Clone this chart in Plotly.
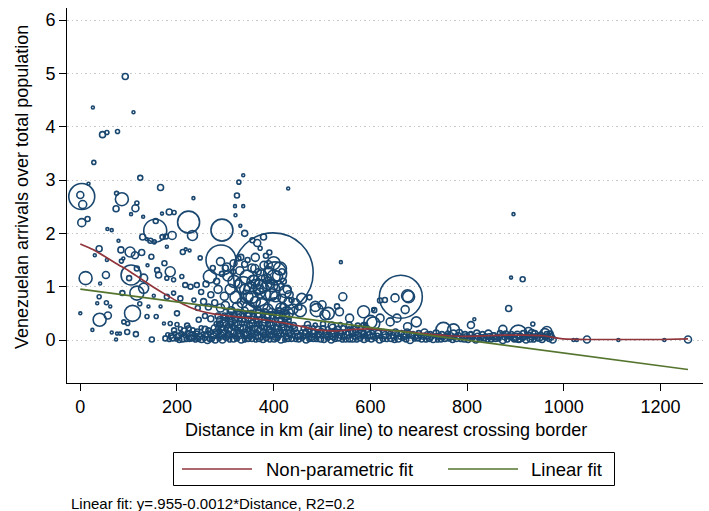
import numpy as np
import plotly.graph_objects as go

NAVY = "#1a476f"
MAROON = "#90353b"
OLIVE = "#55752f"
FONT = "Liberation Sans, Arial, Helvetica, sans-serif"

# Municipalities: distance to nearest border crossing (km), Venezuelan arrivals
# over total population, and population (thousands) used for bubble area.
far_km = [93, 26, 110, 46, 55, 77, 28, 124, 17, 3,
          0, 5, 15, 3, 75, 86, 74, 117, 114, 105,
          130, 56, 65, 166, 234, 155, 156, 169, 184, 194,
          224, 232, 129, 170, 190, 79, 179, 293, 321, 324,
          328, 337, 320, 337, 331, 340, 430, 379, 366, 356]
far_ratio = [4.94, 4.36, 4.27, 3.85, 3.89, 3.91, 3.33, 3.04, 2.93, 2.69,
             2.72, 2.54, 2.27, 2.20, 2.75, 2.64, 2.46, 2.57, 2.47, 2.36,
             2.31, 2.08, 2.06, 2.86, 2.66, 2.05, 2.23, 2.37, 2.40, 2.39,
             2.21, 1.96, 1.93, 1.93, 1.96, 1.86, 1.75, 2.06, 2.34, 2.71,
             2.96, 3.09, 2.51, 2.51, 2.14, 2.00, 2.84, 1.93, 1.82, 1.87]
far_pop = [45, 11, 11, 45, 20, 20, 20, 31, 11, 845,
           61, 80, 31, 80, 20, 211, 45, 20, 61, 11,
           11, 11, 11, 45, 11, 661, 31, 11, 45, 20,
           605, 125, 45, 31, 80, 11, 11, 605, 11, 31,
           20, 11, 11, 11, 11, 45, 11, 45, 61, 31]

mid_km = [372, 391, 384, 399, 39, 30, 147, 248, 212, 218,
          226, 84, 103, 113, 127, 89, 145, 153, 138, 55,
          85, 174, 159, 139, 105, 117, 101, 131, 186, 179,
          162, 193, 210, 11, 53, 41, 39, 87, 117, 131,
          152, 179, 54, 62, 35, 0, 40, 57, 108, 177]
mid_ratio = [1.72, 1.64, 1.58, 1.26, 1.71, 1.59, 1.56, 1.54, 1.65, 1.70,
             1.68, 1.69, 1.65, 1.59, 1.64, 1.53, 1.86, 1.84, 1.89, 1.50,
             1.48, 1.44, 1.31, 1.40, 1.22, 1.34, 1.16, 1.16, 1.28, 1.16,
             1.22, 1.13, 1.19, 1.16, 1.22, 1.06, 0.81, 0.88, 0.88, 0.97,
             0.83, 0.81, 0.70, 0.63, 0.69, 0.50, 0.38, 0.46, 0.50, 1.94]
mid_pop = [20, 31, 31, 8000, 45, 11, 31, 20, 31, 11,
           11, 45, 125, 61, 45, 11, 31, 20, 11, 11,
           20, 31, 31, 11, 500, 31, 31, 80, 125, 20,
           45, 20, 20, 211, 61, 11, 20, 31, 245, 125,
           11, 31, 20, 11, 11, 11, 211, 61, 320, 31]

low_km = [25, 65, 76, 82, 97, 115, 74, 148, 123, 141,
          138, 157, 166, 193, 207, 217, 228, 241, 200, 173,
          186, 90, 98, 291, 268, 290, 293, 400, 417, 317,
          303, 337, 358, 379, 392, 365, 344, 400, 458, 474,
          489, 513, 543, 539, 531, 536, 557, 586, 606, 608]
low_ratio = [0.19, 0.14, 0.12, 0.12, 0.15, 0.11, 0.01, 0.01, 0.68, 0.63,
             0.44, 0.44, 0.63, 0.88, 0.78, 1.03, 1.00, 1.03, 0.50, 0.31,
             0.31, 0.34, 0.31, 1.50, 1.19, 1.47, 1.24, 1.44, 1.28, 1.44,
             1.37, 1.03, 1.09, 1.06, 0.94, 0.88, 0.81, 1.19, 0.78, 0.80,
             0.56, 0.50, 0.81, 1.46, 0.63, 0.53, 0.41, 0.53, 0.31, 0.56]
low_pop = [11, 11, 11, 11, 31, 31, 11, 31, 20, 11,
           20, 20, 11, 20, 31, 31, 31, 31, 31, 11,
           20, 20, 20, 1125, 211, 80, 31, 211, 45, 61,
           80, 361, 211, 361, 500, 911, 211, 211, 125, 31,
           211, 180, 80, 11, 31, 80, 80, 180, 211, 31]

south_km = [586, 420, 427, 455, 891, 915, 663, 677, 651, 672,
            620, 630, 606, 886, 936, 815, 808, 906, 874, 751,
            772, 695, 677, 655, 641, 620, 600, 927, 934, 896,
            965, 961, 1020, 1027, 1048, 1113, 1208, 1257, 679, 403,
            413, 389, 375, 361, 389, 368, 424, 404, 327, 486,
            500, 506, 437]
south_ratio = [0.28, 0.63, 0.50, 0.55, 1.17, 1.14, 0.81, 0.83, 0.79, 0.57,
               0.74, 0.75, 0.57, 0.59, 0.30, 0.39, 0.28, 0.12, 0.20, 0.19,
               0.19, 0.34, 0.25, 0.41, 0.34, 0.41, 0.34, 0.16, 0.12, 2.36,
               0.16, 0.12, 0.00, 0.00, 0.01, 0.00, 0.00, 0.01, 0.81, 1.25,
               1.34, 1.41, 1.22, 1.34, 1.06, 0.94, 0.91, 0.81, 1.53, 0.63,
               0.66, 0.47, 0.75]
south_pop = [31, 45, 211, 180, 11, 31, 2311, 180, 80, 80,
             31, 31, 11, 45, 20, 11, 61, 361, 80, 281,
             180, 125, 80, 80, 80, 80, 211, 80, 80, 11,
             125, 125, 11, 11, 61, 11, 11, 61, 180, 661,
             211, 80, 125, 80, 180, 125, 180, 125, 31, 125,
             80, 125, 31]

core_km = [305, 318, 330, 345, 352, 360, 372, 385, 395, 410,
           418, 428, 310, 322, 335, 348, 362, 376, 388, 402,
           415, 430, 440, 300, 312, 326, 340, 355, 368, 380,
           298, 285, 278, 290, 270, 265, 255, 260, 250, 243,
           235, 282, 274, 300, 316, 332, 346, 362, 390, 408,
           420, 432, 445, 452, 396, 372, 355, 340, 325, 310,
           330, 350, 370, 390, 410, 425, 300, 285, 270, 258,
           245, 288]
core_ratio = [1.20, 1.10, 1.30, 1.18, 0.98, 1.12, 1.00, 1.15, 0.85, 1.02,
              0.78, 0.95, 0.95, 0.80, 0.70, 0.62, 0.72, 0.66, 0.58, 0.68,
              0.60, 0.72, 0.58, 0.65, 0.55, 1.05, 1.42, 1.35, 1.28, 1.40,
              0.82, 0.95, 0.70, 0.60, 0.85, 0.62, 0.72, 1.05, 0.90, 0.60,
              0.75, 1.10, 1.35, 1.35, 1.28, 1.55, 1.50, 1.55, 1.30, 1.20,
              1.10, 0.85, 0.70, 0.62, 1.02, 0.88, 0.80, 0.95, 0.62, 0.45,
              0.48, 0.45, 0.50, 0.44, 0.48, 0.45, 0.42, 0.45, 0.40, 0.45,
              0.38, 0.30]
core_pop = [125, 180, 80, 245, 180, 125, 245, 125, 180, 125,
            80, 80, 125, 180, 125, 180, 125, 180, 125, 180,
            125, 80, 125, 80, 80, 80, 45, 80, 45, 80,
            80, 80, 45, 80, 45, 45, 45, 45, 31, 31,
            20, 45, 31, 45, 31, 45, 31, 80, 80, 125,
            45, 80, 80, 45, 180, 125, 180, 125, 125, 80,
            80, 125, 80, 125, 80, 80, 45, 45, 45, 31,
            31, 45]

# Small municipalities with low ratios, 175-270 km
band_a_km = [176, 184, 191, 199, 205, 212, 219, 226, 231, 238,
             244, 251, 257, 263, 268, 181, 188, 196, 203, 209,
             216, 222, 229, 235, 241, 247, 254, 260, 266, 194,
             207, 215, 224, 233, 242, 250, 258, 265, 200, 221]
band_a_ratio = [0.03, 0.01, 0.04, 0.02, 0.00, 0.03, 0.01, 0.02, 0.04, 0.00,
                0.02, 0.01, 0.03, 0.00, 0.02, 0.10, 0.08, 0.12, 0.07, 0.11,
                0.09, 0.13, 0.08, 0.10, 0.12, 0.07, 0.11, 0.09, 0.13, 0.18,
                0.21, 0.17, 0.22, 0.19, 0.16, 0.23, 0.20, 0.18, 0.29, 0.27]
band_a_pop = [31, 20, 45, 20, 31, 61, 20, 31, 45, 20,
              31, 45, 20, 61, 31, 20, 31, 20, 45, 31,
              20, 31, 61, 20, 31, 45, 20, 31, 20, 31,
              20, 45, 31, 20, 31, 20, 45, 31, 20, 31]

# 270-450 km
band_b_km = [272, 279, 287, 294, 302, 309, 317, 324, 333, 340,
             347, 355, 363, 370, 378, 385, 392, 401, 408, 415,
             423, 430, 437, 446,
             276, 284, 291, 298, 306, 313, 321, 329, 336, 344,
             351, 358, 366, 374, 381, 389, 396, 404, 411, 419,
             426, 434, 441, 449,
             273, 281, 288, 296, 304, 311, 318, 326, 333, 341,
             349, 356, 364, 371, 379, 386, 394, 401, 409, 416,
             424, 431, 439, 447,
             278, 285, 293, 301, 308, 316, 323, 331, 338, 346,
             353, 361, 368, 376, 383, 391, 398, 406, 413, 421,
             428, 436, 443,
             282, 290, 297, 305, 312, 320, 327, 335, 343, 350,
             357, 365, 372, 380, 388, 395, 402, 410, 418, 425,
             433, 441,
             288, 296, 304, 313, 321, 330, 338, 347, 355, 364,
             372, 381, 389, 398, 406, 415, 423, 432,
             298, 308, 318, 328, 338, 348, 358, 368, 378, 388,
             398, 408, 418, 428,
             312, 326, 340, 354, 368, 382, 396, 410, 424]
band_b_ratio = [0.02, 0.00, 0.03, 0.01, 0.04, 0.00, 0.02, 0.03, 0.01, 0.00,
                0.03, 0.02, 0.00, 0.04, 0.01, 0.03, 0.00, 0.02, 0.04, 0.01,
                0.00, 0.03, 0.02, 0.01,
                0.08, 0.07, 0.09, 0.06, 0.10, 0.08, 0.07, 0.09, 0.08, 0.10,
                0.06, 0.09, 0.08, 0.07, 0.10, 0.08, 0.09, 0.06, 0.08, 0.10,
                0.07, 0.09, 0.08, 0.07,
                0.15, 0.14, 0.16, 0.13, 0.15, 0.17, 0.14, 0.16, 0.15, 0.13,
                0.16, 0.15, 0.14, 0.17, 0.15, 0.13, 0.16, 0.15, 0.14, 0.16,
                0.15, 0.13, 0.16, 0.14,
                0.22, 0.21, 0.23, 0.20, 0.22, 0.24, 0.21, 0.23, 0.22, 0.20,
                0.23, 0.22, 0.21, 0.24, 0.22, 0.20, 0.23, 0.22, 0.21, 0.23,
                0.22, 0.20, 0.21,
                0.30, 0.29, 0.31, 0.28, 0.30, 0.32, 0.29, 0.31, 0.30, 0.28,
                0.31, 0.30, 0.29, 0.32, 0.30, 0.28, 0.31, 0.30, 0.29, 0.31,
                0.28, 0.27,
                0.38, 0.37, 0.39, 0.36, 0.38, 0.40, 0.37, 0.39, 0.38, 0.36,
                0.39, 0.38, 0.37, 0.40, 0.38, 0.36, 0.39, 0.37,
                0.46, 0.45, 0.47, 0.44, 0.46, 0.48, 0.45, 0.47, 0.46, 0.44,
                0.47, 0.46, 0.45, 0.47,
                0.54, 0.53, 0.55, 0.52, 0.56, 0.54, 0.53, 0.55, 0.52]
band_b_pop = [31, 45, 20, 61, 31, 20, 45, 31, 61, 20,
              45, 31, 20, 61, 45, 31, 20, 45, 31, 61,
              20, 45, 31, 20,
              45, 20, 61, 31, 45, 20, 31, 61, 20, 45,
              31, 20, 61, 45, 31, 20, 45, 61, 31, 20,
              45, 31, 20, 45,
              20, 61, 31, 45, 20, 61, 45, 31, 20, 61,
              45, 20, 31, 61, 45, 20, 31, 45, 61, 20,
              31, 45, 20, 31,
              61, 31, 45, 20, 61, 31, 20, 45, 61, 31,
              20, 45, 61, 31, 20, 45, 31, 61, 20, 45,
              31, 20, 45,
              31, 45, 61, 20, 31, 45, 61, 31, 20, 45,
              61, 31, 20, 45, 31, 61, 20, 31, 45, 20,
              31, 45,
              45, 31, 20, 61, 45, 31, 20, 45, 61, 31,
              20, 45, 31, 61, 20, 45, 31, 20,
              31, 61, 45, 20, 31, 61, 45, 31, 20, 45,
              61, 31, 45, 20,
              45, 31, 61, 20, 45, 31, 61, 45, 31]

# 450-600 km
band_c_km = [452, 459, 467, 474, 482, 489, 497, 504, 512, 519,
             527, 534, 542, 549, 557, 564, 572, 579, 587, 594,
             455, 463, 470, 478, 485, 493, 500, 508, 515, 523,
             530, 538, 545, 553, 560, 568, 575, 583, 590, 598,
             458, 466, 474, 482, 490, 498, 506, 514, 522, 530,
             538, 546, 554, 562, 570, 578, 586, 594,
             462, 472, 482, 492, 502, 512, 522, 532, 544, 556,
             568, 580, 592,
             470, 486, 502, 520, 538, 556, 574, 590]
band_c_ratio = [0.01, 0.03, 0.00, 0.02, 0.04, 0.01, 0.02, 0.00, 0.03, 0.01,
                0.02, 0.04, 0.00, 0.01, 0.03, 0.02, 0.00, 0.03, 0.01, 0.02,
                0.08, 0.07, 0.09, 0.06, 0.08, 0.10, 0.07, 0.09, 0.08, 0.06,
                0.09, 0.08, 0.07, 0.10, 0.08, 0.06, 0.09, 0.07, 0.08, 0.09,
                0.15, 0.14, 0.16, 0.13, 0.15, 0.16, 0.14, 0.15, 0.13, 0.16,
                0.14, 0.15, 0.13, 0.16, 0.14, 0.15, 0.13, 0.14,
                0.22, 0.21, 0.23, 0.20, 0.22, 0.21, 0.23, 0.20, 0.22, 0.21,
                0.20, 0.22, 0.21,
                0.29, 0.28, 0.30, 0.27, 0.29, 0.28, 0.27, 0.29]
band_c_pop = [31, 20, 45, 31, 61, 20, 45, 31, 20, 61,
              31, 45, 20, 31, 61, 45, 20, 31, 45, 20,
              45, 31, 20, 61, 31, 45, 20, 31, 61, 45,
              20, 31, 45, 61, 20, 31, 45, 20, 31, 61,
              20, 45, 31, 61, 20, 45, 31, 20, 61, 31,
              45, 20, 31, 61, 45, 20, 31, 45,
              31, 61, 20, 45, 31, 20, 61, 45, 31, 20,
              45, 31, 61,
              45, 20, 31, 61, 20, 45, 31, 20]

# 600-980 km
band_d_km = [602, 610, 619, 626, 634, 643, 650, 658, 667, 674,
             682, 691, 698, 706, 715, 722, 730, 739, 746, 754,
             763, 770, 778, 787, 794, 802, 811, 818, 826, 835,
             842, 850, 859, 866, 874, 883, 890, 898, 907, 914,
             922, 931, 938, 946, 955, 962, 970, 977,
             606, 614, 622, 630, 638, 647, 654, 662, 670, 678,
             686, 694, 702, 710, 718, 726, 734, 742, 750, 758,
             766, 774, 782, 790, 798, 806, 814, 822, 830, 838,
             846, 854, 862, 870, 878, 886, 894, 902, 910, 918,
             926, 934, 942, 950, 958, 966, 974,
             604, 616, 628, 640, 652, 664, 676, 688, 700, 712,
             724, 736, 748, 760, 772, 784, 796, 808, 820, 832,
             844, 856, 868, 880, 892, 904, 916, 928, 940, 952,
             964, 972]
band_d_ratio = [0.01, 0.03, 0.00, 0.02, 0.01, 0.04, 0.00, 0.02, 0.03, 0.01,
                0.00, 0.02, 0.04, 0.01, 0.00, 0.03, 0.02, 0.00, 0.01, 0.03,
                0.02, 0.00, 0.04, 0.01, 0.02, 0.00, 0.03, 0.01, 0.02, 0.04,
                0.00, 0.01, 0.03, 0.02, 0.00, 0.01, 0.04, 0.02, 0.00, 0.03,
                0.01, 0.02, 0.00, 0.03, 0.01, 0.04, 0.02, 0.01,
                0.07, 0.08, 0.06, 0.09, 0.07, 0.08, 0.10, 0.06, 0.08, 0.07,
                0.09, 0.06, 0.08, 0.07, 0.09, 0.06, 0.08, 0.07, 0.05, 0.08,
                0.07, 0.06, 0.08, 0.05, 0.07, 0.08, 0.06, 0.07, 0.05, 0.08,
                0.06, 0.07, 0.05, 0.08, 0.06, 0.07, 0.08, 0.06, 0.07, 0.05,
                0.08, 0.06, 0.07, 0.05, 0.08, 0.07, 0.06,
                0.14, 0.13, 0.15, 0.12, 0.14, 0.13, 0.15, 0.12, 0.13, 0.14,
                0.12, 0.13, 0.11, 0.13, 0.12, 0.14, 0.11, 0.12, 0.13, 0.11,
                0.12, 0.10, 0.13, 0.11, 0.12, 0.10, 0.13, 0.11, 0.12, 0.10,
                0.12, 0.11]
band_d_pop = [31, 20, 45, 31, 20, 61, 31, 45, 20, 31,
              61, 20, 45, 31, 20, 45, 61, 20, 31, 45,
              20, 31, 61, 20, 45, 31, 20, 61, 31, 45,
              20, 31, 45, 20, 61, 31, 20, 45, 31, 20,
              61, 45, 20, 31, 45, 20, 31, 61,
              45, 31, 20, 61, 31, 45, 20, 31, 61, 20,
              45, 31, 20, 45, 61, 31, 20, 45, 31, 20,
              61, 31, 45, 20, 31, 61, 20, 45, 31, 20,
              45, 61, 31, 20, 45, 31, 20, 61, 45, 31,
              20, 45, 31, 61, 20, 31, 45,
              20, 45, 31, 20, 61, 31, 45, 20, 31, 61,
              20, 45, 31, 20, 61, 45, 31, 20, 45, 31,
              61, 20, 31, 45, 20, 61, 31, 20, 45, 31,
              20, 45]

# Local (non-parametric) fit
npfit_km = [0, 25, 50, 75, 100, 125, 150, 175, 200, 225,
            250, 275, 300, 340, 380, 420, 460, 490, 530, 565,
            600, 640, 680, 720, 760, 800, 840, 880, 920, 960,
            985, 1000, 1050, 1100, 1150, 1200, 1257]
npfit_ratio = [1.80, 1.70, 1.57, 1.43, 1.30, 1.15, 1.00, 0.86, 0.73, 0.62,
               0.54, 0.49, 0.46, 0.42, 0.38, 0.32, 0.25, 0.19, 0.17, 0.20,
               0.21, 0.18, 0.15, 0.11, 0.08, 0.07, 0.08, 0.09, 0.09, 0.08,
               0.04, 0.02, 0.01, 0.01, 0.01, 0.01, 0.02]

# Linear fit coefficients
lin_intercept = 0.955
lin_slope = -0.0012

x_ticks = [0, 200, 400, 600, 800, 1000, 1200]
y_ticks = [0, 1, 2, 3, 4, 5, 6]


def cols(*groups):
    out = []
    for g in groups:
        out.extend(g)
    return np.array(out, dtype=float)


km = cols(far_km, mid_km, low_km, south_km, core_km,
          band_a_km, band_b_km, band_c_km, band_d_km)
ratio = cols(far_ratio, mid_ratio, low_ratio, south_ratio, core_ratio,
             band_a_ratio, band_b_ratio, band_c_ratio, band_d_ratio)
pop = cols(far_pop, mid_pop, low_pop, south_pop, core_pop,
           band_a_pop, band_b_pop, band_c_pop, band_d_pop)
assert len(km) == len(ratio) == len(pop), (len(km), len(ratio), len(pop))

diam = 0.894 * np.sqrt(pop)

lin_x = np.array([km.min(), km.max()])
lin_y = lin_intercept + lin_slope * lin_x

fig = go.Figure()
fig.add_trace(go.Scatter(
    x=km, y=ratio, mode="markers", name="Municipalities",
    marker=dict(symbol="circle-open", size=diam, sizemode="diameter",
                opacity=1, color=NAVY, line=dict(width=1.6, color=NAVY)),
    showlegend=False, hoverinfo="skip"))
fig.add_trace(go.Scatter(
    x=npfit_km, y=npfit_ratio, mode="lines", name="Non-parametric fit",
    line=dict(color=MAROON, width=1.7, shape="spline", smoothing=0.4),
    showlegend=False))
fig.add_trace(go.Scatter(
    x=lin_x, y=lin_y, mode="lines", name="Linear fit",
    line=dict(color=OLIVE, width=1.7), showlegend=False))

fig.update_xaxes(
    range=[-27.5, 1288], tickvals=x_ticks, ticks="outside", ticklen=7,
    tickcolor="#000", tickwidth=1, showline=True, linecolor="#000",
    linewidth=1, showgrid=False, zeroline=False,
    tickfont=dict(family=FONT, size=18, color="#000"))
fig.update_yaxes(
    range=[-0.806, 6.225], tickvals=y_ticks, ticks="outside", ticklen=7,
    tickcolor="#000", tickwidth=1, showline=True, linecolor="#000",
    linewidth=1, showgrid=True, gridcolor="#c8c8c8", gridwidth=1,
    griddash="1.5px,3px", zeroline=False,
    tickfont=dict(family=FONT, size=18, color="#000"))

W, H = 709, 511
L, R, T, B = 67, 6, 8, 128
pw, ph = W - L - R, H - T - B


def px(x):
    return (x - L) / pw


def py(y):
    return (H - B - y) / ph


# Legend drawn as a framed key below the plot
shapes = [
    dict(type="rect", xref="paper", yref="paper",
         x0=px(173.5), x1=px(614.5), y0=py(485.5), y1=py(452.5),
         line=dict(color="#000", width=1), fillcolor="white"),
    dict(type="line", xref="paper", yref="paper",
         x0=px(182), x1=px(252), y0=py(469), y1=py(469),
         line=dict(color=MAROON, width=1.7)),
    dict(type="line", xref="paper", yref="paper",
         x0=px(448), x1=px(518), y0=py(469), y1=py(469),
         line=dict(color=OLIVE, width=1.7)),
]

annotations = [
    dict(text="Venezuelan arrivals over total population", xref="paper",
         yref="paper", x=px(22), y=py(187), textangle=-90, showarrow=False,
         font=dict(family=FONT, size=18, color="#000"),
         xanchor="center", yanchor="middle"),
    dict(text="Distance in km (air line) to nearest crossing border",
         xref="paper", yref="paper", x=px(386), y=py(430), showarrow=False,
         font=dict(family=FONT, size=18, color="#000"),
         xanchor="center", yanchor="middle"),
    dict(text="Non-parametric fit", xref="paper", yref="paper",
         x=px(264), y=py(469), showarrow=False, xanchor="left",
         yanchor="middle", font=dict(family=FONT, size=18.5, color="#000")),
    dict(text="Linear fit", xref="paper", yref="paper",
         x=px(529), y=py(469), showarrow=False, xanchor="left",
         yanchor="middle", font=dict(family=FONT, size=18.5, color="#000")),
    dict(text="Linear fit: y=.955-0.0012*Distance, R2=0.2", xref="paper",
         yref="paper", x=px(69), y=py(503), showarrow=False, xanchor="left",
         yanchor="middle", font=dict(family=FONT, size=15, color="#000")),
]

fig.update_layout(
    width=W, height=H, margin=dict(l=L, r=R, t=T, b=B, pad=0),
    paper_bgcolor="white", plot_bgcolor="white", showlegend=False,
    shapes=shapes, annotations=annotations)

fig.write_html("out.html")
